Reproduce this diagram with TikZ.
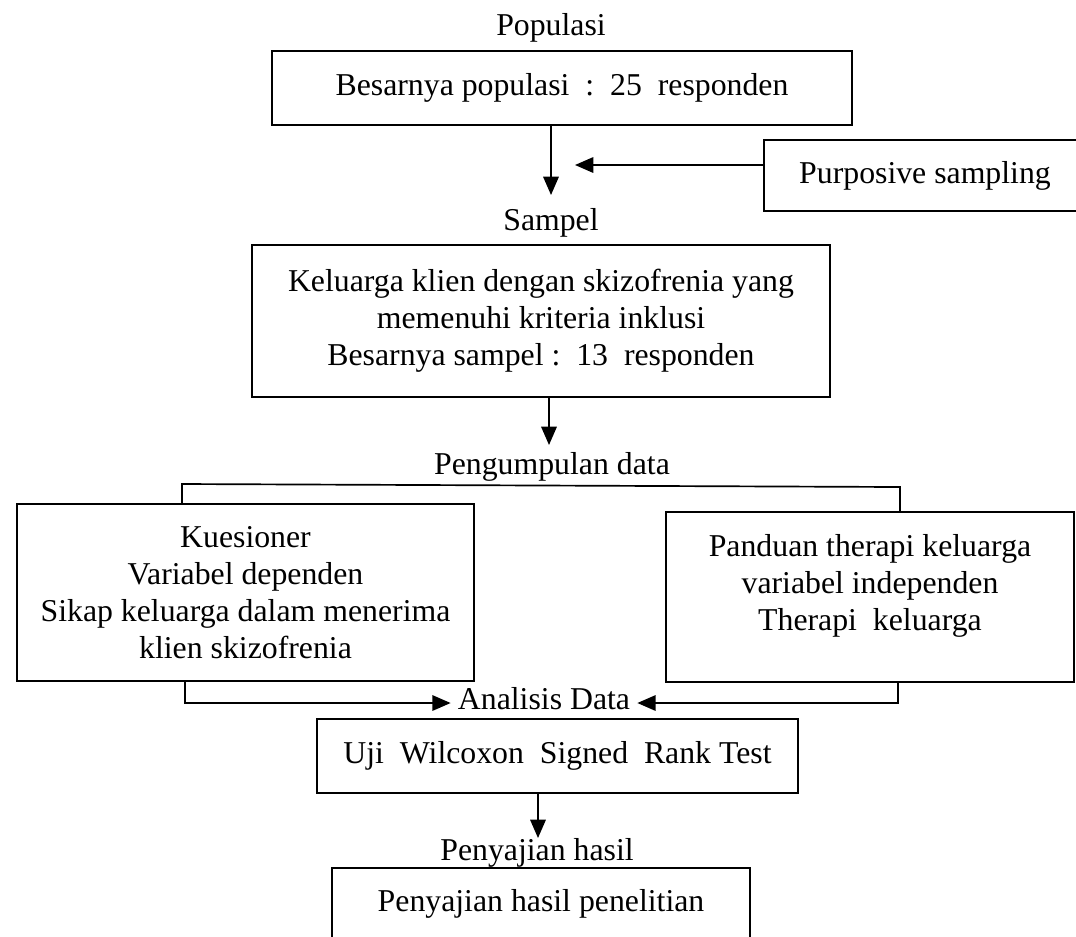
\documentclass[tikz,border=0pt]{standalone}
\usepackage{fontspec}
\setmainfont{Liberation Serif}
\usepackage{tikz}
\usetikzlibrary{arrows.meta}
\usetikzlibrary{positioning}
\tikzset{>={Triangle[length=13pt, width=11pt]}}
\tikzstyle{box} = [rectangle, draw, line width = 1.2pt, align = center, inner sep = 2]
\tikzstyle{lbl} = [draw = none, inner sep = 1]
\tikzstyle{con} = [line width = 1.2pt]

\begin{document}
\begin{tikzpicture}[x = 0.025cm, y = -0.025cm, font = \fontsize{22.6}{26.3}\selectfont]
\useasboundingbox (0, 0) rectangle (1076, 936);
\clip (0, 0) rectangle (1076, 936);
% labels
\node [lbl] (lpop) at (551, 28) {Populasi};
\node [lbl] (lsamp) at (551, 223) {Sampel};
\node [lbl] (lkum) at (552, 467) {Pengumpulan data};
\node [lbl, inner sep = 5] (lana) at (544, 699) {Analisis Data};
\node [lbl] (lhas) at (537, 853) {Penyajian hasil};
% boxes
\node [box, minimum width = 14.5cm, minimum height = 1.85cm] (pop) at (562, 88) {Besarnya populasi \ :\ \ 25\ \ responden};
\node [box, minimum width = 8.05cm, minimum height = 1.775cm] (purp) at (925, 175.5) {Purposive sampling};
\node [box, minimum width = 14.45cm, minimum height = 3.8cm] (samp) at (541, 321) {Keluarga klien dengan skizofrenia yang\\ memenuhi kriteria inklusi\\ Besarnya sampel :\ \ 13\ \ responden};
\node [box, minimum width = 11.425cm, minimum height = 4.425cm] (kues) at (245.5, 592.5) {Kuesioner\\ Variabel dependen\\ Sikap keluarga dalam menerima\\ klien skizofrenia};
\node [box, minimum width = 10.2cm, minimum height = 4.25cm] (pand) at (870, 597) {Panduan therapi keluarga\\ variabel independen\\ Therapi\ \ keluarga\\[-6pt]\mbox{}};
\node [box, minimum width = 12.025cm, minimum height = 1.85cm] (uji) at (557.5, 756) {Uji\ \ Wilcoxon\ \ Signed\ \ Rank Test};
\node [box, minimum width = 10.45cm, minimum height = 1.8cm] (peny) at (541, 904) {Penyajian hasil penelitian};
% connectors
\coordinate (t1) at (551, 195);
\coordinate (t2) at (575, 165);
\coordinate (t3) at (549, 445);
\coordinate (t4) at (538, 838);
\coordinate (bl) at (182, 484);
\coordinate (br) at (900, 487);
\coordinate (ll) at (185, 703);
\coordinate (rl) at (898, 703);
\draw [con, ->] (pop.south -| t1) -- (t1);
\draw [con, ->] (purp.west |- t2) -- (t2);
\draw [con, ->] (samp.south -| t3) -- (t3);
\draw [con] (kues.north -| bl) -- (bl) -- (br) -- (pand.north -| br);
\draw [con, ->] (kues.south -| ll) -- (ll) -- (lana.west |- ll);
\draw [con, ->] (pand.south -| rl) -- (rl) -- (lana.east |- rl);
\draw [con, ->] (uji.south -| t4) -- (t4);
\end{tikzpicture}
\end{document}
